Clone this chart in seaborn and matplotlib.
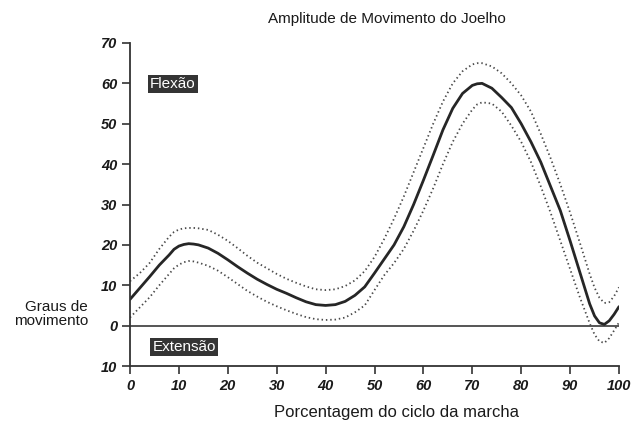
import matplotlib
matplotlib.use("Agg")
import matplotlib.pyplot as plt
import seaborn as sns
import pandas as pd

# Percent of gait cycle at which the knee angle was sampled
pct = [0, 2, 4, 6, 8, 9, 10, 11, 12, 13, 14, 16, 18, 20, 22, 24, 26, 28, 30, 32, 34,
       36, 38, 40, 42, 44, 46, 48, 50, 52, 54, 56, 58, 60, 62, 64, 66, 68, 70, 71,
       72, 74, 76, 78, 80, 82, 84, 86, 88, 90, 92, 94, 95, 96, 97, 98, 99, 100]

# Mean knee flexion (degrees)
media = [6.5, 9.3, 12.1, 15.0, 17.5, 18.9, 19.7, 20.1, 20.3, 20.2, 20.0, 19.2, 17.9,
         16.3, 14.6, 13.0, 11.5, 10.2, 9.0, 8.0, 6.9, 5.9, 5.2, 5.0, 5.2, 6.0, 7.5,
         9.6, 13.0, 16.5, 20.0, 24.5, 30.0, 36.0, 42.2, 48.5, 53.8, 57.5, 59.5,
         59.9, 60.0, 58.8, 56.5, 54.0, 50.0, 45.5, 40.5, 34.5, 28.5, 21.0, 13.2, 5.4,
         2.4, 0.7, 0.3, 1.2, 2.8, 4.7]

# Upper limit of the normal band
superior = [11.0, 13.0, 15.5, 19.0, 22.0, 23.2, 23.8, 24.1, 24.2, 24.2, 24.1, 23.7,
            22.5, 21.0, 19.2, 17.3, 15.6, 14.2, 12.8, 11.6, 10.6, 9.7, 9.0, 8.8, 9.0,
            9.8, 11.2, 13.5, 17.0, 21.5, 26.5, 32.0, 38.0, 44.0, 50.0, 55.5, 60.0,
            63.0, 64.7, 65.0, 65.0, 64.2, 62.5, 60.0, 57.0, 53.0, 47.5, 41.5, 35.0,
            28.0, 20.5, 12.8, 9.4, 6.9, 5.6, 5.8, 7.3, 9.5]

# Lower limit of the normal band
inferior = [2.0, 4.5, 7.0, 10.0, 12.8, 14.2, 15.1, 15.7, 16.0, 15.9, 15.6, 14.8,
            13.6, 12.0, 10.3, 8.6, 7.2, 5.9, 4.8, 3.8, 2.9, 2.1, 1.6, 1.4, 1.5, 2.0,
            3.3, 5.0, 8.8, 12.5, 15.5, 19.0, 23.5, 28.5, 34.0, 40.0, 45.5, 50.0, 53.5,
            54.8, 55.3, 55.0, 53.0, 49.5, 45.5, 40.5, 34.5, 28.0, 21.0, 14.0, 7.0,
            0.6, -2.2, -3.9, -4.3, -3.1, -1.2, 0.8]

xticks = [0, 10, 20, 30, 40, 50, 60, 70, 80, 90, 100]
yticks = [-10, 0, 10, 20, 30, 40, 50, 60, 70]
ytick_labels = ["10", "0", "10", "20", "30", "40", "50", "60", "70"]

df = pd.DataFrame({"pct": pct, "media": media,
                   "superior": superior, "inferior": inferior})

sns.set_theme(style="ticks")
plt.rcParams["font.family"] = ["Liberation Sans", "DejaVu Sans"]

fig = plt.figure(figsize=(6.31, 4.23), dpi=100)
ax = fig.add_axes([130 / 631, 57 / 423, 489 / 631, 323 / 423])

ink = "#262626"
dots = "#4a4a4a"

ax.axhline(0, color="#555555", lw=1.4, zorder=1)

sns.lineplot(data=df, x="pct", y="superior", ax=ax, color=dots, lw=1.3,
             linestyle=(0, (0.8, 1.6)), errorbar=None)
sns.lineplot(data=df, x="pct", y="inferior", ax=ax, color=dots, lw=1.3,
             linestyle=(0, (0.8, 1.6)), errorbar=None)
sns.lineplot(data=df, x="pct", y="media", ax=ax, color=ink, lw=2.0,
             errorbar=None)

ax.set_xlim(0, 100)
ax.set_ylim(-10, 70)
ax.set_xticks(xticks)
ax.set_xticklabels([str(t) for t in xticks])
ax.set_yticks(yticks)
ax.set_yticklabels(ytick_labels)
ax.set_xlabel("")
ax.set_ylabel("")

for side in ("top", "right"):
    ax.spines[side].set_visible(False)
for side in ("left", "bottom"):
    ax.spines[side].set_color("#333333")
    ax.spines[side].set_linewidth(1.3)

ax.tick_params(axis="both", length=6, width=1.2, color="#333333",
               labelsize=10.5, labelcolor="#1a1a1a", pad=3)
for lab in ax.get_xticklabels() + ax.get_yticklabels():
    lab.set_fontweight("bold")
    lab.set_fontstyle("italic")

box = dict(boxstyle="square,pad=0.15", facecolor="#343434", edgecolor="none")
ax.text(8.8, 59.8, "Flexão", color="white", fontsize=11, ha="center",
        va="center", bbox=box)
ax.text(11.1, -5.3, "Extensão", color="white", fontsize=11, ha="center",
        va="center", bbox=box)

fig.text(387 / 631, 1 - 19 / 423, "Amplitude de Movimento do Joelho",
         ha="center", va="center", fontsize=11, color="#1a1a1a")
fig.text(88 / 631, 1 - 314 / 423, "Graus de\nmovimento", ha="right",
         va="center", multialignment="right", linespacing=1.0,
         fontsize=11, color="#1a1a1a")
fig.text(397 / 631, 1 - 417 / 423, "Porcentagem do ciclo da marcha",
         ha="center", va="baseline", fontsize=12, color="#1a1a1a")

fig.savefig("out.png", dpi=100, facecolor="white")
